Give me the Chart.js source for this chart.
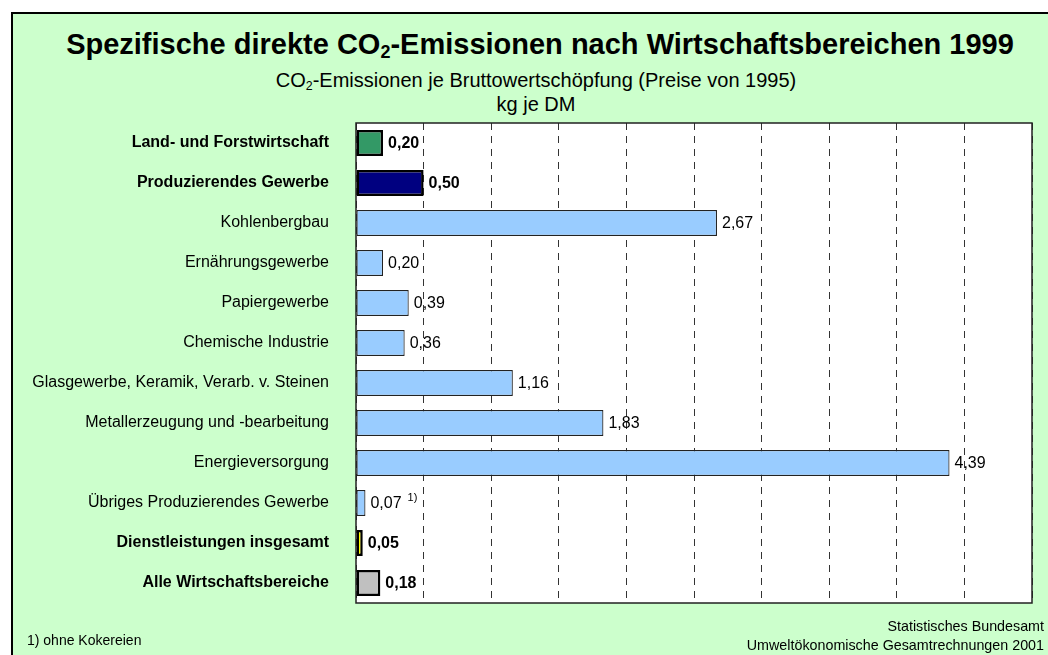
<!DOCTYPE html>
<html>
<head>
<meta charset="utf-8">
<script src="https://cdn.jsdelivr.net/npm/chart.js@4"></script>
<style>
  html, body { margin: 0; padding: 0; background: #fff; width: 1048px; height: 655px; overflow: hidden; font-family: "Liberation Sans", Arial, sans-serif; }
  #frame { position: absolute; left: 11px; top: 12px; width: 1100px; height: 700px; background: #ccffcc; border-left: 2px solid #000; border-top: 2px solid #000; }
  #c { position: absolute; left: 0; top: 0; }
  .t { position: absolute; left: 0; width: 1072px; text-align: center; color: #000; white-space: nowrap; }
  #title { top: 28px; width: 1080px; font-size: 29px; font-weight: bold; }
  #sub1 { top: 69px; font-size: 20px; }
  #sub2 { top: 93px; font-size: 20px; }
  sub { font-size: 0.62em; vertical-align: -0.25em; line-height: 0; }
  .f { position: absolute; color: #000; white-space: nowrap; }
  #fn { left: 27px; top: 632px; font-size: 14px; }
  #src1 { left: 0; width: 1044px; top: 618px; text-align: right; font-size: 14.3px; }
  #src2 { left: 0; width: 1044px; top: 637px; text-align: right; font-size: 14.3px; }
</style>
</head>
<body>
<div id="frame"></div>
<div class="t" id="title">Spezifische direkte CO<sub>2</sub>-Emissionen nach Wirtschaftsbereichen 1999</div>
<div class="t" id="sub1">CO<sub>2</sub>-Emissionen je Bruttowertschöpfung (Preise von 1995)</div>
<div class="t" id="sub2">kg je DM</div>
<canvas id="c" width="1048" height="655"></canvas>
<div class="f" id="fn">1) ohne Kokereien</div>
<div class="f" id="src1">Statistisches Bundesamt</div>
<div class="f" id="src2">Umweltökonomische Gesamtrechnungen 2001</div>
<script>
const categories = [
  "Land- und Forstwirtschaft",
  "Produzierendes Gewerbe",
  "Kohlenbergbau",
  "Ernährungsgewerbe",
  "Papiergewerbe",
  "Chemische Industrie",
  "Glasgewerbe, Keramik, Verarb. v. Steinen",
  "Metallerzeugung und -bearbeitung",
  "Energieversorgung",
  "Übriges Produzierendes Gewerbe",
  "Dienstleistungen insgesamt",
  "Alle Wirtschaftsbereiche"
];
const values = [0.20, 0.50, 2.67, 0.20, 0.39, 0.36, 1.16, 1.83, 4.39, 0.07, 0.05, 0.18];
const boldRows = [0, 1, 10, 11];
const footnoteRow = 9;
const footnoteMark = "1)";
const barColors = ["#339966", "#000080", "#99ccff", "#99ccff", "#99ccff", "#99ccff", "#99ccff", "#99ccff", "#99ccff", "#99ccff", "#ffff00", "#c0c0c0"];
const xMin = 0, xMax = 5, xStep = 0.5;

const FONT = "'Liberation Sans', Arial, sans-serif";

const plotBg = {
  id: 'plotBg',
  beforeDraw(chart) {
    const ctx = chart.ctx, a = chart.chartArea;
    ctx.save();
    ctx.fillStyle = '#ffffff';
    ctx.fillRect(a.left, a.top, a.right - a.left, a.bottom - a.top);
    ctx.restore();
  }
};

const frameAndLabels = {
  id: 'frameAndLabels',
  afterDatasetsDraw(chart) {
    const ctx = chart.ctx;
    const a = chart.chartArea;
    ctx.save();
    ctx.strokeStyle = '#222';
    ctx.lineWidth = 1.5;
    ctx.setLineDash([]);
    ctx.strokeRect(a.left, a.top, a.right - a.left, a.bottom - a.top);
    const meta = chart.getDatasetMeta(0);
    meta.data.forEach((el, i) => {
      const bold = boldRows.includes(i);
      ctx.font = (bold ? 'bold ' : '') + '16px ' + FONT;
      ctx.fillStyle = '#000';
      ctx.textAlign = 'left';
      ctx.textBaseline = 'middle';
      const txt = values[i].toFixed(2).replace('.', ',');
      const x = el.x + 5;
      ctx.fillText(txt, x, el.y + 1);
      if (i === footnoteRow) {
        const w = ctx.measureText(txt).width;
        ctx.font = '11px ' + FONT;
        ctx.fillText(footnoteMark, x + w + 6, el.y - 5);
      }
    });
    ctx.restore();
  }
};

new Chart(document.getElementById('c'), {
  type: 'bar',
  data: {
    labels: categories,
    datasets: [{
      data: values,
      backgroundColor: barColors,
      borderColor: categories.map((_, i) => boldRows.includes(i) ? '#000' : '#222'),
      borderWidth: categories.map((_, i) => boldRows.includes(i) ? 2.5 : 1.2),
      borderSkipped: false,
      barPercentage: 0.65,
      categoryPercentage: 1.0
    }]
  },
  options: {
    indexAxis: 'y',
    responsive: false,
    animation: false,
    devicePixelRatio: 1,
    layout: { padding: { left: 0, top: 123, right: 16, bottom: 52 } },
    plugins: { legend: { display: false }, tooltip: { enabled: false }, title: { display: false } },
    scales: {
      x: {
        min: xMin, max: xMax,
        ticks: { display: false, stepSize: xStep },
        grid: { display: true, color: '#333', lineWidth: 1, drawTicks: false },
        border: { display: false, dash: [7, 6] },
        afterFit(s) { s.height = 0; }
      },
      y: {
        grid: { display: false, drawTicks: false },
        border: { display: false },
        ticks: {
          padding: 27,
          color: '#000',
          autoSkip: false,
          font: (c) => ({ family: FONT, size: 16, weight: boldRows.includes(c.index) ? 'bold' : 'normal' })
        },
        afterFit(s) { s.width = 356; }
      }
    }
  },
  plugins: [plotBg, frameAndLabels]
});
</script>
</body>
</html>
